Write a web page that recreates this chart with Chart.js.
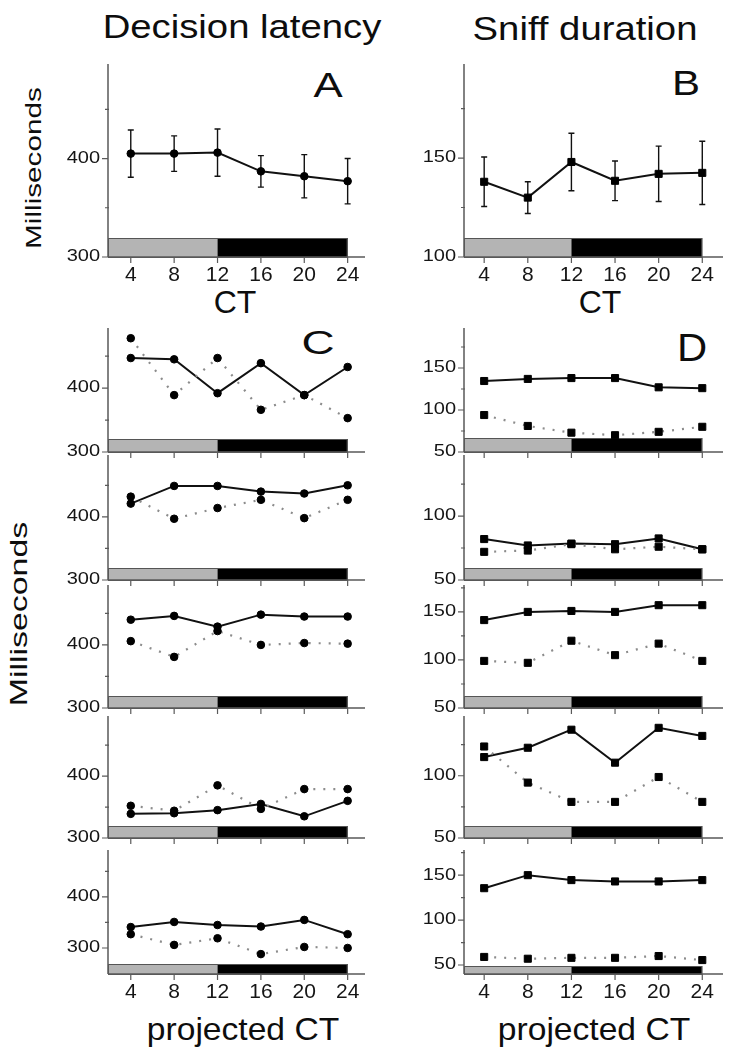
<!DOCTYPE html>
<html>
<head>
<meta charset="utf-8">
<script src="https://cdn.jsdelivr.net/npm/chart.js@4.4.1/dist/chart.umd.min.js"></script>
<style>
  body { margin: 0; background: #fff; width: 730px; height: 1050px; position: relative; overflow: hidden;
         font-family: 'Liberation Sans', Arial, sans-serif; color: #0d0d0d; }
  canvas { position: absolute; }
  .lbl { position: absolute; white-space: nowrap; line-height: 1; }
</style>
</head>
<body>

<div class="lbl" style="font-size:33px;left:242px;top:10px;transform:translateX(-50%) scaleX(1.16)">Decision latency</div>
<div class="lbl" style="font-size:33px;left:585px;top:12px;transform:translateX(-50%) scaleX(1.16)">Sniff duration</div>
<div class="lbl" style="font-size:22px;left:34px;top:168px;transform:translate(-50%,-50%) rotate(-90deg) scaleX(1.35)">Milliseconds</div>
<div class="lbl" style="font-size:24px;left:19px;top:614px;transform:translate(-50%,-50%) rotate(-90deg) scaleX(1.41)">Milliseconds</div>
<div class="lbl" style="font-size:35px;left:328px;top:67px;transform:translateX(-50%) scaleX(1.25)">A</div>
<div class="lbl" style="font-size:35px;left:686px;top:65px;transform:translateX(-50%) scaleX(1.2)">B</div>
<div class="lbl" style="font-size:34px;left:318px;top:325px;transform:translateX(-50%) scaleX(1.35)">C</div>
<div class="lbl" style="font-size:38px;left:692px;top:329px;transform:translateX(-50%) scaleX(1.1)">D</div>
<div class="lbl" style="font-size:32px;left:235px;top:286px;transform:translateX(-50%)">CT</div>
<div class="lbl" style="font-size:32px;left:600px;top:286px;transform:translateX(-50%)">CT</div>
<div class="lbl" style="font-size:32px;left:243px;top:1013px;transform:translateX(-50%) scaleX(1.05)">projected CT</div>
<div class="lbl" style="font-size:32px;left:594px;top:1013px;transform:translateX(-50%) scaleX(1.05)">projected CT</div>

<script>
// circadian time points and light/dark phase boundaries
const ctHours = [4, 8, 12, 16, 20, 24];
const xTicks = [4, 8, 12, 16, 20, 24];
const phaseEnds = [12, 24];

// A: decision latency, mean and error
const latencyMean = [405, 405, 406, 387, 382, 377];
const latencyErr = [24, 18, 24, 16, 22, 23];
// B: sniff duration, mean and error
const sniffMean = [138, 130, 148, 138.5, 142, 142.5];
const sniffErr = [12.5, 8, 14.5, 10, 14, 16];

// C: decision latency, projected CT (solid / dotted line per row)
const latC1Solid = [447, 445, 392, 439, 389, 433];
const latC1Dotted = [478, 389, 447, 366, 389, 353];
const latC2Solid = [421, 449, 449, 440, 437, 450];
const latC2Dotted = [432, 397, 414, 427, 398, 427];
const latC3Solid = [440, 446, 429, 448, 445, 445];
const latC3Dotted = [406, 381, 422, 400, 403, 402];
const latC4Solid = [339, 340, 345, 355, 335, 360];
const latC4Dotted = [352, 344, 385, 347, 379, 379];
const latC5Solid = [341, 351, 345, 342, 355, 327];
const latC5Dotted = [327, 306, 319, 288, 302, 300];

// D: sniff duration, projected CT
const snD1Solid = [134.5, 137, 138, 138, 127, 126];
const snD1Dotted = [94, 81, 73, 70, 74, 80];
const snD2Solid = [82, 77, 78.5, 78, 82.5, 74];
const snD2Dotted = [72, 73, 78, 74, 76, 74];
const snD3Solid = [141.5, 150, 151, 150, 157, 157];
const snD3Dotted = [99, 97, 120, 105, 117, 99];
const snD4Solid = [115, 122.5, 137, 110.5, 138.5, 132];
const snD4Dotted = [123.5, 94.5, 79, 79, 99, 79];
const snD5Solid = [135.5, 150, 144.5, 143, 143, 144.5];
const snD5Dotted = [59, 57, 58, 58, 60, 55.5];

// y tick values
const latMajor = [300, 400];
const latMinor = [350, 450];
const sniffMajorAB = [100, 150];
const sniffMinorAB = [125, 175];
const sniffMajor3 = [50, 100, 150];
const sniffMajor2 = [50, 100];
const sniffMinor = [75, 125, 175];

const columns = {
  left:  { canvasLeft: 40,  plotLeft: 108, plotRight: 365, canvasRight: 375, xMin: 1.9,  xMax: 25.6 },
  right: { canvasLeft: 400, plotLeft: 464, plotRight: 723, canvasRight: 730, xMin: 2.15, xMax: 25.9 }
};

const panels = [
  { col: 'left',  top: 64,  axis: 257, yMin: 300, yMax: 496, major: latMajor, minor: latMinor, barH: 19, xLabels: true,
    lines: [latencyMean], err: latencyErr, marker: 'circle' },
  { col: 'right', top: 64,  axis: 257, yMin: 100, yMax: 197.5, major: sniffMajorAB, minor: sniffMinorAB, barH: 19, xLabels: true,
    lines: [sniffMean], err: sniffErr, marker: 'rect' },
  { col: 'left',  top: 328, axis: 452, yMin: 300, yMax: 494, major: latMajor, minor: latMinor, barH: 13, lines: [latC1Solid, latC1Dotted], marker: 'circle' },
  { col: 'left',  top: 455, axis: 580, yMin: 300, yMax: 498, major: latMajor, minor: latMinor, barH: 12, lines: [latC2Solid, latC2Dotted], marker: 'circle' },
  { col: 'left',  top: 585, axis: 708, yMin: 300, yMax: 495, major: latMajor, minor: latMinor, barH: 12, lines: [latC3Solid, latC3Dotted], marker: 'circle' },
  { col: 'left',  top: 716, axis: 838, yMin: 300, yMax: 497, major: latMajor, minor: latMinor, barH: 12, lines: [latC4Solid, latC4Dotted], marker: 'circle' },
  { col: 'left',  top: 850, axis: 974, yMin: 249, yMax: 492, major: latMajor, minor: latMinor, barH: 10, xLabels: true,
    lines: [latC5Solid, latC5Dotted], marker: 'circle' },
  { col: 'right', top: 328, axis: 452, yMin: 50, yMax: 197.6, major: sniffMajor3, minor: sniffMinor, barH: 14, lines: [snD1Solid, snD1Dotted], marker: 'rect' },
  { col: 'right', top: 455, axis: 580, yMin: 50, yMax: 147.7, major: sniffMajor2, minor: sniffMinor, barH: 12, lines: [snD2Solid, snD2Dotted], marker: 'rect' },
  { col: 'right', top: 585, axis: 708, yMin: 50, yMax: 178, major: sniffMajor3, minor: sniffMinor, barH: 12, lines: [snD3Solid, snD3Dotted], marker: 'rect' },
  { col: 'right', top: 716, axis: 838, yMin: 50, yMax: 148, major: sniffMajor2, minor: sniffMinor, barH: 12, lines: [snD4Solid, snD4Dotted], marker: 'rect' },
  { col: 'right', top: 850, axis: 974, yMin: 40, yMax: 178, major: sniffMajor3, minor: sniffMinor, barH: 8, xLabels: true,
    lines: [snD5Solid, snD5Dotted], marker: 'rect' }
];

function stretchText(ctx, str, x, y, sx, align) {
  ctx.save();
  ctx.translate(x, y);
  ctx.scale(sx, 1);
  ctx.textAlign = align;
  ctx.fillText(str, 0, 0);
  ctx.restore();
}

// phase bar, axes, ticks, tick labels and error bars
const panelDecor = {
  id: 'panelDecor',
  beforeDatasetsDraw(chart, args, o) {
    const { ctx, chartArea: a, scales: { x, y } } = chart;
    ctx.save();

    const x0 = x.getPixelForValue(x.min);
    const x1 = x.getPixelForValue(phaseEnds[0]);
    const x2 = x.getPixelForValue(phaseEnds[1]);
    const yt = a.bottom - o.barH;
    ctx.fillStyle = '#b4b4b4';
    ctx.fillRect(x0, yt, x1 - x0, o.barH);
    ctx.fillStyle = '#000';
    ctx.fillRect(x1, yt, x2 - x1, o.barH);
    ctx.strokeStyle = '#555';
    ctx.lineWidth = 1;
    ctx.strokeRect(x0 + 0.5, yt + 0.5, x2 - x0 - 1, o.barH);

    ctx.strokeStyle = '#5a5a5a';
    ctx.lineWidth = 1.5;
    ctx.beginPath();
    ctx.moveTo(a.left, a.top);
    ctx.lineTo(a.left, a.bottom);
    ctx.moveTo(a.left, a.bottom);
    ctx.lineTo(a.right, a.bottom);
    ctx.stroke();

    ctx.lineWidth = 1.2;
    ctx.beginPath();
    o.minor.forEach(v => {
      if (v > y.max || v < y.min) return;
      const py = y.getPixelForValue(v);
      ctx.moveTo(a.left - 3, py);
      ctx.lineTo(a.left + 1, py);
    });
    o.major.forEach(v => {
      const py = y.getPixelForValue(v);
      ctx.moveTo(a.left - 6, py);
      ctx.lineTo(a.left, py);
    });
    xTicks.forEach(v => {
      const px = x.getPixelForValue(v);
      ctx.moveTo(px, a.bottom);
      ctx.lineTo(px, a.bottom + 6);
    });
    ctx.stroke();

    ctx.fillStyle = '#151515';
    ctx.textBaseline = 'middle';
    ctx.font = '16px "Liberation Sans", Arial, sans-serif';
    o.major.forEach(v => {
      stretchText(ctx, String(v), a.left - 8, y.getPixelForValue(v), 1.25, 'right');
    });
    if (o.xLabels) {
      ctx.font = '21px "Liberation Sans", Arial, sans-serif';
      xTicks.forEach(v => {
        stretchText(ctx, String(v), x.getPixelForValue(v), a.bottom + 18, 1.0, 'center');
      });
    }

    if (o.err) {
      const mean = chart.data.datasets[0].data;
      ctx.strokeStyle = '#111';
      ctx.lineWidth = 1.4;
      ctx.beginPath();
      mean.forEach((p, i) => {
        const px = x.getPixelForValue(p.x);
        const hi = y.getPixelForValue(p.y + o.err[i]);
        const lo = y.getPixelForValue(p.y - o.err[i]);
        ctx.moveTo(px, hi); ctx.lineTo(px, lo);
        ctx.moveTo(px - 3, hi); ctx.lineTo(px + 3, hi);
        ctx.moveTo(px - 3, lo); ctx.lineTo(px + 3, lo);
      });
      ctx.stroke();
    }
    ctx.restore();
  }
};

function buildPanel(p, idx) {
  const c = columns[p.col];
  const canvas = document.createElement('canvas');
  const padTop = 12, padBottom = 36;
  canvas.width = c.canvasRight - c.canvasLeft;
  canvas.height = (p.axis - p.top) + padTop + padBottom;
  canvas.style.left = c.canvasLeft + 'px';
  canvas.style.top = (p.top - padTop) + 'px';
  canvas.id = 'panel' + idx;
  document.body.appendChild(canvas);

  const datasets = p.lines.map((vals, k) => ({
    data: ctHours.map((h, i) => ({ x: h, y: vals[i] })),
    borderColor: k === 0 ? '#111' : '#8c8c8c',
    borderWidth: k === 0 ? 2 : 2.2,
    borderDash: k === 0 ? [] : [2, 8],
    pointStyle: p.marker,
    pointRadius: p.marker === 'rect' ? 5 : 3.8,
    pointBackgroundColor: '#000',
    pointBorderColor: '#000',
    pointBorderWidth: 1,
    tension: 0,
    clip: false,
    order: 1 - k
  }));

  new Chart(canvas.getContext('2d'), {
    type: 'line',
    data: { datasets },
    options: {
      animation: false,
      responsive: false,
      devicePixelRatio: 1,
      layout: { padding: { left: c.plotLeft - c.canvasLeft, right: c.canvasRight - c.plotRight, top: padTop, bottom: padBottom } },
      plugins: {
        legend: { display: false },
        tooltip: { enabled: false },
        panelDecor: { major: p.major, minor: p.minor, barH: p.barH, xLabels: !!p.xLabels, err: p.err }
      },
      scales: {
        x: { type: 'linear', display: false, min: c.xMin, max: c.xMax },
        y: { type: 'linear', display: false, min: p.yMin, max: p.yMax }
      }
    },
    plugins: [panelDecor]
  });
}

panels.forEach(buildPanel);
</script>
</body>
</html>
